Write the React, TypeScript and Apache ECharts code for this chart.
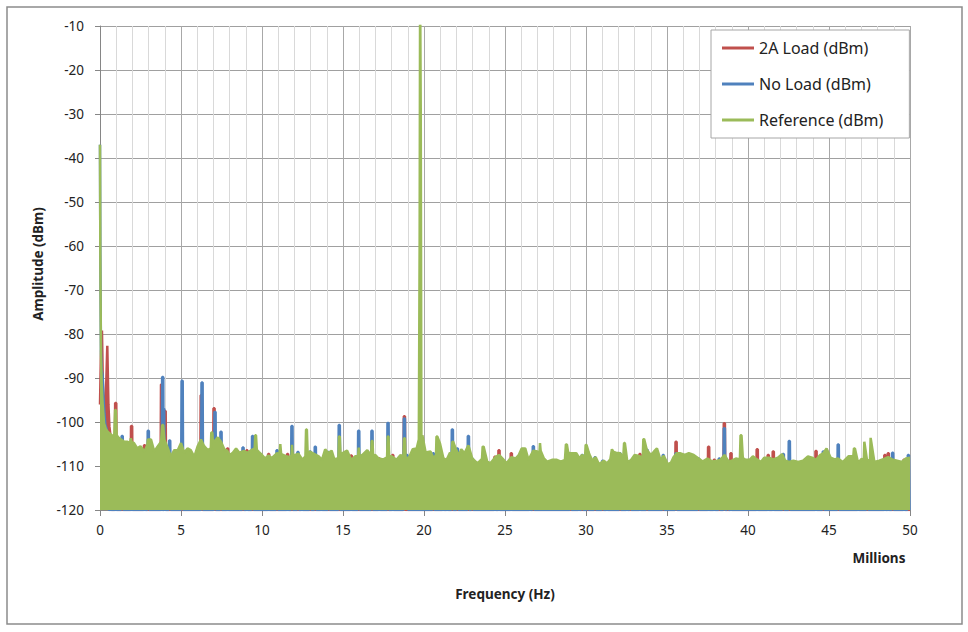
import React, { useEffect, useRef } from "react";
import * as echarts from "echarts";

// ---- data (frequency in MHz, amplitude in dBm) ----
const seriesNames = ["2A Load (dBm)", "No Load (dBm)", "Reference (dBm)"];
const seriesColors = ["#C0504D", "#4F81BD", "#9BBB59"];
const FLOOR = -120;

// Reference trace: noise-floor envelope with spurs
const greenTrace: number[][] = [
  [0, -37], [0.02, -62], [0.06, -85], [0.11, -92], [0.16, -95.8], [0.25, -100.3], [0.36, -101.6], [0.47, -102.2],
  [0.6, -102.6], [0.72, -103], [0.88, -103.2], [0.93, -97.3], [0.98, -97.3], [1.03, -103], [1.15, -103.6], [1.3, -104],
  [1.5, -104.5], [1.7, -104.5], [1.86, -104.8], [1.9, -103.7], [1.95, -104.5], [2.1, -104.8], [2.3, -106], [2.5, -105.5],
  [2.75, -106.7], [2.92, -105.2], [2.95, -104], [3.15, -104], [3.35, -106.7], [3.55, -105.6], [3.77, -104.5],
  [3.84, -100.7], [3.9, -100.7], [3.97, -104], [4.15, -105.6], [4.38, -107.9], [4.58, -106.4], [4.8, -106.4],
  [5.0, -104.8], [5.2, -107], [5.4, -106], [5.6, -106.4], [5.82, -107.9], [6.02, -105.6], [6.23, -104], [6.43, -105.5],
  [6.65, -106.4], [6.84, -106], [6.87, -102.4], [6.93, -102.4], [6.97, -104.5], [7.05, -104.5], [7.27, -103.5],
  [7.47, -104.5], [7.67, -106.2], [7.85, -106.5], [8.0, -107.5], [8.2, -107], [8.4, -106], [8.6, -107], [8.9, -106.6],
  [9.1, -107], [9.35, -106.4], [9.55, -106], [9.58, -103], [9.63, -103], [9.68, -106.3], [9.8, -106.8], [10.0, -107.5],
  [10.2, -108.3], [10.4, -107.6], [10.6, -108.2], [10.93, -107.1], [11.08, -107.3], [11.13, -105], [11.18, -107.2],
  [11.3, -107.5], [11.5, -107.8], [11.7, -108], [11.82, -107.6], [11.85, -105.2], [11.9, -107.5], [12.05, -107.5],
  [12.25, -107.2], [12.5, -108.6], [12.68, -107.8], [12.72, -101.7], [12.77, -101.7], [12.82, -107.5], [12.95, -106.7],
  [13.15, -107.1], [13.5, -107.8], [13.7, -108.6], [13.9, -106.2], [14.1, -107.1], [14.3, -106.5], [14.45, -108.3],
  [14.6, -108.5], [14.72, -108], [14.75, -103.3], [14.8, -103.3], [14.85, -107.6], [14.95, -107.1], [15.25, -106.5],
  [15.5, -108.6], [15.75, -107.8], [15.93, -107.8], [15.97, -105.8], [16.02, -107.8], [16.2, -107.5], [16.5, -106.4],
  [16.74, -107.6], [16.77, -104.3], [16.82, -104.3], [16.86, -107.6], [17.0, -107.5], [17.2, -108.3], [17.5, -108.5],
  [17.72, -108], [17.76, -103.3], [17.81, -103.3], [17.85, -107.8], [18.0, -107.8], [18.3, -108.6], [18.55, -107.5],
  [18.73, -108], [18.77, -103.7], [18.82, -103.7], [18.86, -108], [19.05, -108.3], [19.3, -106.2], [19.55, -106],
  [19.68, -104], [19.73, -60], [19.76, 0], [19.8, -30], [19.84, -104], [19.9, -103], [20.1, -106.9], [20.4, -106.7],
  [20.6, -108.3], [20.74, -107.5], [20.77, -103.3], [20.82, -103.3], [20.98, -104.8], [21.2, -108.3], [21.4, -108.6],
  [21.6, -107], [21.72, -107.2], [21.75, -104.5], [21.8, -104.5], [21.95, -106], [22.15, -107.6], [22.3, -106.2],
  [22.5, -107.1], [22.74, -105.3], [22.98, -108.3], [23.3, -109.4], [23.58, -108.4], [23.62, -105.6], [23.68, -105.6],
  [23.9, -109], [24.1, -109.4], [24.4, -108], [24.63, -107.5], [24.85, -108.3], [25.1, -109.4], [25.39, -108],
  [25.65, -108.3], [25.85, -107.5], [26.03, -106], [26.25, -106], [26.45, -108.6], [26.75, -106.5], [27.0, -106.7],
  [27.12, -107.5], [27.16, -104.8], [27.2, -106.5], [27.4, -108.3], [27.6, -109], [27.9, -108.6], [28.2, -108.6],
  [28.45, -109], [28.7, -108.6], [28.76, -105.1], [28.82, -105.1], [28.9, -107], [29.05, -107.1], [29.4, -107.1],
  [29.6, -108.3], [29.75, -107.5], [29.94, -108], [29.98, -105.2], [30.03, -105.2], [30.2, -107.3], [30.4, -108.8],
  [30.6, -108], [30.8, -109.6], [31.1, -108.8], [31.3, -109.4], [31.5, -108.5], [31.6, -106.2], [31.7, -106.8],
  [31.85, -107], [32.1, -107.1], [32.3, -108], [32.35, -104.8], [32.4, -104.8], [32.55, -109], [32.75, -108.8],
  [33.0, -107.5], [33.33, -107.8], [33.5, -108.4], [33.54, -103.9], [33.59, -103.9], [33.75, -106.3], [34.0, -107.5],
  [34.2, -106.7], [34.38, -106], [34.6, -108.6], [34.8, -107.7], [35.05, -109.6], [35.25, -109.2], [35.4, -108],
  [35.6, -107.1], [35.8, -107.1], [36.1, -107.5], [36.35, -107.1], [36.65, -107.5], [36.95, -108.3], [37.2, -109],
  [37.5, -108.3], [37.8, -109], [38.1, -108.8], [38.3, -108.6], [38.55, -107.5], [38.8, -109], [39.0, -108.8],
  [39.25, -108.3], [39.5, -108.5], [39.54, -103], [39.6, -103], [39.68, -108.2], [39.85, -108.6], [40.1, -108.6],
  [40.3, -107.8], [40.55, -108.5], [40.8, -109.1], [41.0, -108.1], [41.3, -108.1], [41.55, -108.5], [41.85, -108.1],
  [42.1, -107.3], [42.3, -108.8], [42.55, -109.1], [42.8, -108.8], [43.1, -109.1], [43.4, -108.8], [43.7, -107.8],
  [43.95, -108.1], [44.2, -108.6], [44.45, -107.5], [44.65, -107.1], [44.85, -106], [45.1, -108.1], [45.35, -108.5],
  [45.55, -108.3], [45.85, -109.1], [46.2, -107.8], [46.5, -107.8], [46.54, -106], [46.6, -106], [46.8, -109.4],
  [47.0, -108.4], [47.15, -108.5], [47.18, -104.5], [47.22, -104.5], [47.35, -108.8], [47.53, -108.6], [47.57, -103.6],
  [47.61, -103.6], [47.8, -109.1], [48.1, -108.8], [48.4, -108.4], [48.65, -108], [48.9, -108.5], [49.2, -108.8],
  [49.5, -109.1], [49.75, -108.3], [50.0, -108.1],
];

// 2A Load: low-frequency envelope, then spurs visible above the floor
const redLowFreq: number[][] = [
  [0, -96], [0.05, -86], [0.12, -79.2], [0.17, -90], [0.22, -96], [0.3, -100], [0.38, -92], [0.45, -82.7],
  [0.52, -96], [0.58, -101], [0.66, -103.5],
];
const redSpurs: number[][] = [
  [0.97, -95.7], [1.95, -100.9], [2.75, -105.3], [3.8, -91.5], [4.02, -97.5], [6.25, -93.9], [7.04, -96.9],
  [7.88, -106], [9.07, -106.4], [10.41, -107.3], [11.58, -107.3], [12.47, -108.6], [13.66, -108.6], [15.51, -107.6],
  [17.24, -108.3], [18.07, -107.5], [18.79, -98.7], [21.19, -108.3], [21.44, -108.4], [24.38, -107.9], [24.63, -106.4],
  [25.39, -107.1], [26.54, -108.5], [29.57, -108.6], [31.3, -109.4], [32.53, -109], [33.33, -107.3], [35.56, -104.5],
  [37.57, -105.6], [37.92, -108.6], [38.54, -100.3], [38.95, -107.1], [40.57, -106.2], [41.25, -107.5], [41.56, -106.7],
  [44.2, -106.6], [46.81, -108.9], [48.45, -107.5], [48.66, -107.1], [49.63, -108.6],
];

// No Load: low-frequency envelope, then spurs
const blueLowFreq: number[][] = [
  [0, -37], [0.02, -62], [0.06, -84], [0.1, -88], [0.16, -89.3], [0.21, -94], [0.27, -98], [0.33, -100.5],
  [0.4, -101.5], [0.5, -103],
];
const blueSpurs: number[][] = [
  [1.37, -103.2], [2.98, -102], [3.87, -89.8], [3.93, -97], [4.3, -104.2], [5.07, -90.6], [6.3, -91], [7.1, -97.7],
  [7.47, -102.2], [8.83, -105.8], [9.42, -103.2], [10.93, -106.4], [11.85, -100.9], [12.22, -106.8], [12.98, -106.7],
  [13.29, -105.6], [14.12, -106.8], [14.77, -100.7], [15.97, -102], [16.79, -102], [17.78, -100.2], [18.79, -99.2],
  [18.95, -107.5], [20.58, -107.1], [21.75, -101.7], [22.06, -106], [22.74, -103.2], [22.98, -108.3], [26.75, -105.5],
  [29.05, -107.1], [29.77, -107.5], [30.1, -106.7], [30.56, -108], [31.03, -108.8], [32.1, -107.1], [32.74, -108.8],
  [33.77, -106.3], [34.77, -107.5], [35.56, -107.1], [36.95, -108.3], [38.23, -108.3], [38.54, -101.4], [38.75, -108.8],
  [42.18, -107.3], [42.55, -104.3], [44.65, -106.7], [45.57, -105.1], [47.36, -109.2], [48.93, -107], [49.9, -107.5],
];

// build a trace: envelope first, then each spur drawn as a narrow bar from the floor
function buildTrace(lowFreq: number[][], spurs: number[][]): number[][] {
  const out: number[][] = lowFreq.map((p) => [p[0], p[1]]);
  const last = lowFreq[lowFreq.length - 1][0];
  out.push([last + 0.05, FLOOR]);
  spurs.forEach(([f, v]) => {
    out.push([f - 0.07, FLOOR], [f - 0.035, v], [f + 0.035, v], [f + 0.07, FLOOR]);
  });
  out.push([50, FLOOR]);
  return out;
}

const FONT = "'Noto Sans', 'Open Sans', sans-serif";

export default function App() {
  const ref = useRef<HTMLDivElement>(null);

  useEffect(() => {
    if (!ref.current) return;
    const chart = echarts.init(ref.current, undefined, { renderer: "svg" });
    const traces = [
      buildTrace(redLowFreq, redSpurs),
      buildTrace(blueLowFreq, blueSpurs),
      greenTrace,
    ];
    chart.setOption({
      animation: false,
      backgroundColor: "#ffffff",
      textStyle: { fontFamily: FONT },
      grid: { left: 100, top: 26, width: 810, height: 484, containLabel: false },
      xAxis: {
        type: "value",
        min: 0,
        max: 50,
        interval: 5,
        axisLine: { show: true, onZero: false, lineStyle: { color: "#868686", width: 1 } },
        axisTick: { show: true, length: 6, lineStyle: { color: "#868686" } },
        axisLabel: { margin: 13, fontSize: 13.5, color: "#222", fontFamily: FONT },
        splitLine: { show: true, lineStyle: { color: "#a8a8a8", width: 1 } },
        minorTick: { show: false, splitNumber: 5 },
        minorSplitLine: { show: true, lineStyle: { color: "#d9d9d9", width: 1 } },
      },
      yAxis: {
        type: "value",
        min: -120,
        max: -10,
        interval: 10,
        axisLine: { show: true, onZero: false, lineStyle: { color: "#868686", width: 1 } },
        axisTick: { show: true, length: 5, lineStyle: { color: "#868686" } },
        axisLabel: { margin: 16, fontSize: 13.5, color: "#222", fontFamily: FONT },
        splitLine: { show: true, lineStyle: { color: "#a0a0a0", width: 1 } },
      },
      legend: {
        data: seriesNames,
        orient: "vertical",
        left: 711,
        top: 30,
        icon: "rect",
        itemWidth: 32,
        itemHeight: 3,
        itemGap: 20,
        padding: [10, 26, 10, 11],
        backgroundColor: "#ffffff",
        borderColor: "#a6a6a6",
        borderWidth: 1,
        textStyle: { fontSize: 16, color: "#222", fontFamily: FONT },
      },
      graphic: [
        {
          type: "rect",
          shape: { x: 7, y: 7, width: 955, height: 617 },
          style: { fill: "none", stroke: "#8c8c8c", lineWidth: 1.5 },
          silent: true,
        },
        {
          type: "text",
          x: 38,
          y: 264,
          rotation: Math.PI / 2,
          style: {
            text: "Amplitude (dBm)",
            font: `bold 13.5px ${FONT}`,
            fill: "#222",
            align: "center",
            verticalAlign: "middle",
          },
        },
        {
          type: "text",
          x: 505,
          y: 594,
          style: {
            text: "Frequency (Hz)",
            font: `bold 13.5px ${FONT}`,
            fill: "#222",
            align: "center",
            verticalAlign: "middle",
          },
        },
        {
          type: "text",
          x: 879,
          y: 558,
          style: {
            text: "Millions",
            font: `bold 13.5px ${FONT}`,
            fill: "#222",
            align: "center",
            verticalAlign: "middle",
          },
        },
      ],
      series: seriesNames.map((name, i) => ({
        name,
        type: "line",
        data: traces[i],
        showSymbol: false,
        symbol: "none",
        silent: true,
        clip: true,
        color: seriesColors[i],
        itemStyle: { color: seriesColors[i] },
        lineStyle: { color: seriesColors[i], width: 2.5 },
        areaStyle: { color: seriesColors[i], opacity: 1, origin: "start" },
        emphasis: { disabled: true },
        z: 2 + i,
      })),
    });
    return () => chart.dispose();
  }, []);

  return (
    <div
      ref={ref}
      style={{ position: "fixed", left: 0, top: 0, width: 968, height: 632, background: "#fff" }}
    />
  );
}
